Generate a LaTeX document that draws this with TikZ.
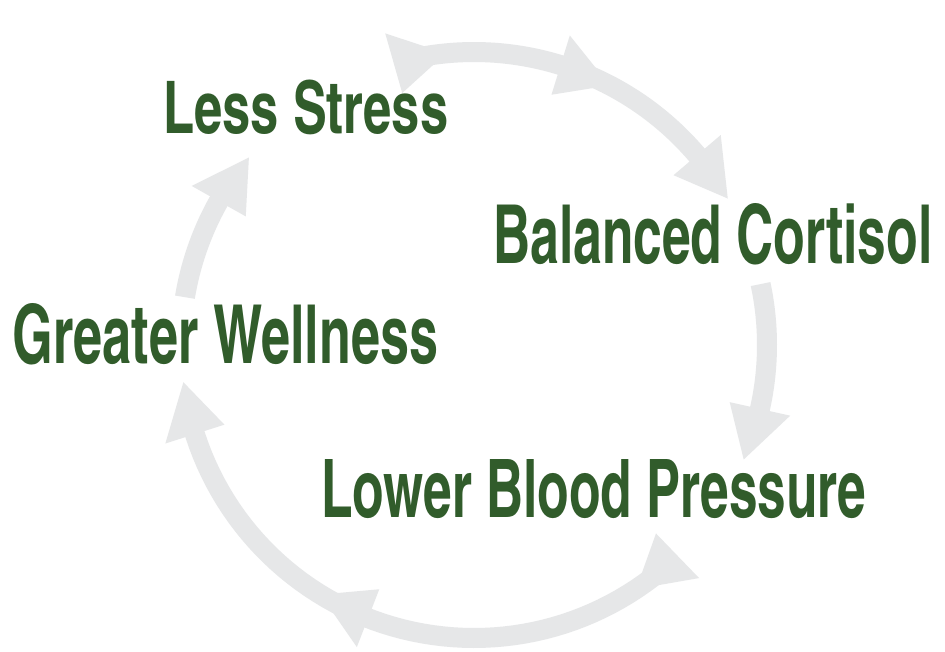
\documentclass[tikz,border=0pt]{standalone}
\usepackage{fontspec}
\usepackage{graphicx}
\newfontfamily\lblfont{texgyreheroscn-bold.otf}
\definecolor{bandgray}{HTML}{E6E7E8}
\definecolor{leafgreen}{HTML}{315C2B}
\newcommand\cycband[2]{\draw[band] plot[domain=#1:#2,samples=60] ({474+293*cos(\x)},{345+293*sin(\x)});}
\newcommand\cychead[1]{\fill[bandgray] ({474+293*cos(#1)},{345+293*sin(#1)}) -- ({474+324*cos(#1-10.4)},{345+324*sin(#1-10.4)}) -- ({474+262*cos(#1-10.4)},{345+262*sin(#1-10.4)}) -- cycle;}
\begin{document}
\begin{tikzpicture}[x=1pt,y=-1pt,
  band/.style={draw=bandgray,line width=20pt,line cap=butt},
  lbl/.style={inner sep=0pt,anchor=south west,text=leafgreen,font=\lblfont}]
\useasboundingbox[fill=white] (0,0) rectangle (945,651);
\coordinate (c) at (474,345);
% top arc
\cycband{-105.6}{-38}
\cychead{-95.5}
\cychead{-62.4}
\cychead{-30}
% right arc
\cycband{-12}{14}
\cychead{23}
% bottom arc
\cycband{46.2}{164}
\cychead{56.4}
\cychead{121.6}
\cychead{172.7}
% left arc
\cycband{189.4}{211}
\cychead{219.8}
% labels
\node[lbl] (less) at (163,135.5) {\resizebox{285pt}{53.5pt}{Less Stress}};
\node[lbl] (bal) at (493,265) {\resizebox{439pt}{60pt}{Balanced Cortisol}};
\node[lbl] (great) at (12.7,365) {\resizebox{425pt}{60pt}{Greater Wellness}};
\node[lbl] (lower) at (321,519) {\resizebox{545pt}{58pt}{Lower Blood Pressure}};
\end{tikzpicture}
\end{document}
